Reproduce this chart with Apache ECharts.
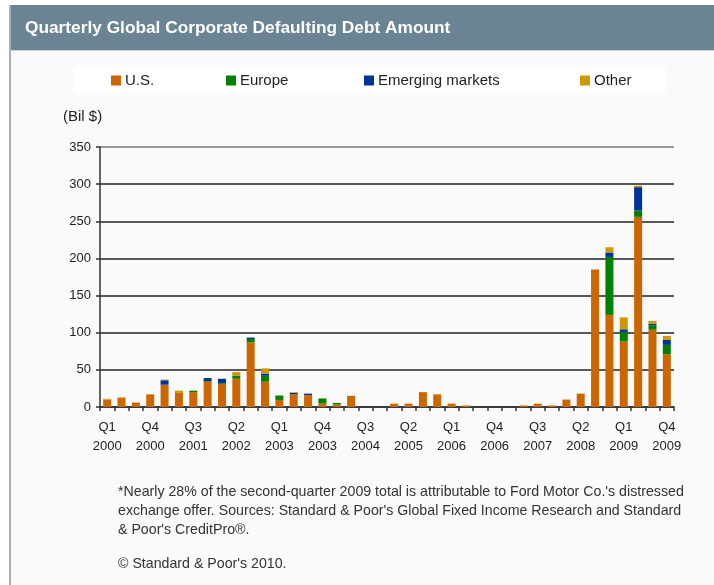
<!DOCTYPE html>
<html>
<head>
<meta charset="utf-8">
<script src="https://cdn.jsdelivr.net/npm/echarts@6/dist/echarts.min.js"></script>
<style>
html,body{margin:0;padding:0;background:#fff;}
#chart{width:714px;height:585px;}
</style>
</head>
<body>
<div id="chart"></div>
<script>
var quarters = [];
var years = [2000,2001,2002,2003,2004,2005,2006,2007,2008,2009];
years.forEach(function(y){ for (var q=1;q<=4;q++) quarters.push('Q'+q+'\n'+y); });

var usValues = [10,12,6,17,30,19,20,34,31,38,87,34,9.5,17,16,4.5,3.5,15,0,0,4.5,4.5,20,17,4.5,2,0,0,0,2,4.5,2,10,18,185,124,88,256,104,71];
var europeValues = [0,0,0,0,0,0,2,1,1,4,4.5,8,6,0,0,7,2,0,0,0,0,0,0,0,0,0,0,0,0,0,0,0,0,0,0,78,13,8.5,6,12.6];
var emergingValues = [0,0,0,0,6,0,0,4,6,0,2,3,0,2,2,0,0,0,0,0,0,0,0,0,0,0,0,0,0,0,0,0,0,0,0,6,3.6,31.5,2,6.7];
var otherValues = [1,1,0,0,1,3,0,0,0,5,0,7,0,1,0,0,0,0,0,0,0,0,0,0,0,0,0,0,0,0,0,0,0,0,0,7,16,2,4,5.4];

var seriesNames = ['U.S.','Europe','Emerging markets','Other'];
var seriesColors = ['#cc6600','#008000','#003399','#cc9900'];
var seriesData = [usValues, europeValues, emergingValues, otherValues];
var yTicks = [0,50,100,150,200,250,300,350];

var titleText = 'Quarterly Global Corporate Defaulting Debt Amount';
var footnoteText = "*Nearly 28% of the second-quarter 2009 total is attributable to Ford Motor Co.'s distressed\nexchange offer. Sources: Standard & Poor's Global Fixed Income Research and Standard\n& Poor's CreditPro\u00ae.";
var copyrightText = "\u00a9 Standard & Poor's 2010.";

var FONT = 'Arial, "Liberation Sans", sans-serif';
var chart = echarts.init(document.getElementById('chart'));

var legendLefts = [111, 226, 364, 580];

var option = {
  backgroundColor: '#ffffff',
  animation: false,
  textStyle: { fontFamily: FONT },
  graphic: [
    { type: 'rect', z: -10, shape: { x: 10, y: 5, width: 704, height: 580 }, style: { fill: '#fafafa' } },
    { type: 'rect', z: -9, shape: { x: 10, y: 5, width: 704, height: 45 }, style: { fill: '#6a8494' } },
    { type: 'rect', z: -9, shape: { x: 10, y: 50, width: 704, height: 1 }, style: { fill: '#c8d2d8' } },
    { type: 'rect', z: -9, shape: { x: 9, y: 5, width: 2, height: 580 }, style: { fill: '#a6b0b8' } },
    { type: 'rect', z: -9, shape: { x: 73, y: 65, width: 592, height: 30 }, style: { fill: '#ffffff' } },
    { type: 'text', left: 25, top: 20, style: { text: titleText, fill: '#ffffff', font: 'bold 17.3px ' + FONT } },
    { type: 'text', left: 63, top: 109, style: { text: '(Bil $)', fill: '#222', font: '15px ' + FONT } },
    { type: 'text', left: 118, top: 483, style: { text: footnoteText, fill: '#333', font: '14.2px ' + FONT, lineHeight: 19 } },
    { type: 'text', left: 118, top: 557, style: { text: copyrightText, fill: '#333', font: '14.2px ' + FONT } }
  ],
  legend: seriesNames.map(function(n, i){
    return {
      data: [n], left: legendLefts[i], top: 73, padding: 0,
      icon: 'rect', itemWidth: 10, itemHeight: 10, itemGap: 0,
      textStyle: { fontSize: 15, color: '#222', fontFamily: FONT, padding: [0,0,0,-1] },
      selectedMode: false
    };
  }),
  grid: { left: 100, right: 40, top: 147, bottom: 178, containLabel: false },
  xAxis: {
    type: 'category',
    data: quarters,
    axisLine: { lineStyle: { color: '#333', width: 1.5 } },
    axisTick: { show: true, interval: 0, length: 4, lineStyle: { color: '#333', width: 1.5 } },
    axisLabel: { interval: 2, fontSize: 13, color: '#222', lineHeight: 19, margin: 11, fontFamily: FONT },
    splitLine: { show: false }
  },
  yAxis: {
    type: 'value',
    min: 0, max: 350, interval: 50,
    axisLine: { show: true, lineStyle: { color: '#333', width: 1.5 } },
    axisTick: { show: true, length: 4, lineStyle: { color: '#333', width: 1.5 } },
    axisLabel: { fontSize: 13, color: '#222', margin: 9, fontFamily: FONT,
      formatter: function(v){ return yTicks.indexOf(v) >= 0 ? String(v) : ''; } },
    splitLine: { show: true, lineStyle: { color: ['#222','#222','#222','#222','#222','#222','#222','#777'], width: 1.5 } }
  },
  series: seriesNames.map(function(n, i){
    return {
      name: n, type: 'bar', stack: 'total', barWidth: 8,
      itemStyle: { color: seriesColors[i] },
      data: seriesData[i]
    };
  })
};
chart.setOption(option);
</script>
</body>
</html>
